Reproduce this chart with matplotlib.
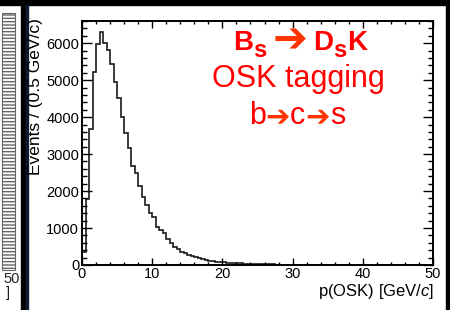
import matplotlib
matplotlib.use("Agg")
import matplotlib.pyplot as plt
import numpy as np
from matplotlib.patches import Rectangle
from matplotlib.ticker import MultipleLocator

plt.rcParams['font.family'] = ['Liberation Sans', 'DejaVu Sans']
plt.rcParams['mathtext.fontset'] = 'custom'
plt.rcParams['mathtext.rm'] = 'Liberation Sans'
plt.rcParams['mathtext.it'] = 'Liberation Sans:italic'
plt.rcParams['mathtext.bf'] = 'Liberation Sans:bold'

# p(OSK) histogram, 0.5 GeV/c bins from 0 to 50
p_lo, p_hi, bin_w = 0.0, 50.0, 0.5
counts = [
    350, 1780, 3690, 5225, 5970, 6290, 6000, 5810, 5450, 4955,
    4505, 3990, 3558, 3153, 2676, 2477, 2135, 1847, 1622, 1396,
    1306, 1036, 946, 856, 694, 586, 495, 425, 365, 315,
    278, 240, 205, 178, 155, 132, 115, 102, 92, 82,
    74, 67, 60, 54, 49, 44, 40, 36, 32, 28,
    25, 22, 19, 17, 15, 13, 11, 10, 9, 8,
    7, 6, 5, 5, 4, 4, 3, 3, 3, 2,
    2, 2, 2, 1, 1, 1, 1, 1, 1, 1,
    1, 0, 1, 0, 1, 0, 0, 1, 0, 0,
    0, 0, 0, 0, 0, 0, 0, 0, 0, 0,
]
edges = np.arange(p_lo, p_hi + bin_w / 2, bin_w)

RED = '#ff0000'
ARROW = '#ff3300'

W, H = 450, 310
fig = plt.figure(figsize=(W / 100, H / 100), dpi=100)
fig.patch.set_facecolor('white')

# slide decorations: frame bars and the edge of the neighbouring plot
fig.add_artist(Rectangle((0, 1 - 4.5 / H), 1, 4.5 / H, transform=fig.transFigure,
                         color='black', zorder=1))
fig.add_artist(Rectangle((20.5 / W, 0), 5 / W, 1, transform=fig.transFigure,
                         color='black', zorder=1))
fig.add_artist(Rectangle((25.5 / W, 0), 3 / W, 1 - 4.5 / H, transform=fig.transFigure,
                         color='#0e1a33', zorder=1))
fig.add_artist(Rectangle((446 / W, 0), 4 / W, 1, transform=fig.transFigure,
                         color='black', zorder=1))
plt.rcParams['hatch.color'] = '#888888'
fig.add_artist(Rectangle((2 / W, 40 / H), 13 / W, 257 / H, transform=fig.transFigure,
                         facecolor='white', edgecolor='#666666', hatch='-----', lw=0.8,
                         zorder=1))
fig.text(3 / W, 27 / H, '50', fontsize=10.5, va='baseline', ha='left', color='#222222')
fig.text(6 / W, 13 / H, ']', fontsize=10.5, va='baseline', ha='left', color='#222222')

ax = fig.add_axes([82 / W, 45 / H, 351 / W, 244 / H])
ax.stairs(counts, edges, color='#1a1a1a', lw=1.2, baseline=0)
ax.set_xlim(0, 50)
ax.set_ylim(0, 6600)
ax.xaxis.set_major_locator(MultipleLocator(10))
ax.xaxis.set_minor_locator(MultipleLocator(2))
ax.yaxis.set_major_locator(MultipleLocator(1000))
ax.yaxis.set_minor_locator(MultipleLocator(200))
ax.tick_params(which='both', direction='in', top=True, right=True, width=1.0, colors='black')
ax.tick_params(axis='y', which='major', length=7, labelsize=10.5, pad=2)
ax.tick_params(axis='y', which='minor', length=3.5)
ax.tick_params(axis='x', which='major', length=5, labelsize=10.5, pad=1.5)
ax.tick_params(axis='x', which='minor', length=2.5)
for s in ax.spines.values():
    s.set_linewidth(1.4)

fig.text(36 / W, 292 / H, 'Events / (0.5 GeV/c)', rotation=90, fontsize=12.5,
         ha='center', va='top', zorder=3)
fig.text(434 / W, 14 / H, 'p(OSK) [GeV/$c$]', fontsize=12, ha='right', va='baseline')


def rich_line(parts, xc, y_base):
    # parts: (text, colour, size, weight, dy) or a gap in pixels
    r = fig.canvas.get_renderer()
    placed = []
    total = 0
    for p in parts:
        if isinstance(p, (int, float)):
            placed.append(p)
            total += p
            continue
        txt, col, size, weight, dy = p
        fam = ['DejaVu Sans'] if txt == '➔' else ['Liberation Sans', 'DejaVu Sans']
        t = fig.text(0, (y_base + dy) / H, txt, color=col, fontsize=size,
                     fontweight=weight, family=fam, ha='left', va='baseline')
        w = t.get_window_extent(renderer=r).width
        placed.append((t, w))
        total += w
    x = xc - total / 2
    for p in placed:
        if isinstance(p, (int, float)):
            x += p
            continue
        t, w = p
        t.set_x(x / W)
        x += w


rich_line([('B', RED, 20, 'bold', 0), ('s', RED, 17, 'bold', -7), 6,
           ('➔', ARROW, 30, 'bold', -2), 6,
           ('D', RED, 20, 'bold', 0), ('s', RED, 17, 'bold', -7), ('K', RED, 20, 'bold', 0)],
          300, 260)
rich_line([('OSK tagging', RED, 22, 'normal', 0)], 298, 223)
rich_line([('b', RED, 22, 'normal', 0), ('➔', ARROW, 21, 'bold', -1),
           ('c', RED, 22, 'normal', 0), ('➔', ARROW, 21, 'bold', -1),
           ('s', RED, 22, 'normal', 0)], 297, 186)

fig.savefig('out.png', dpi=100)
